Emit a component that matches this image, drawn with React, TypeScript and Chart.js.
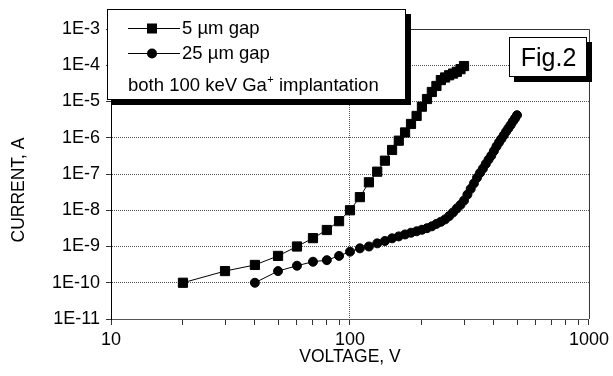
import React, { useEffect, useRef } from 'react';
import { Chart, registerables } from 'chart.js';

Chart.register(...registerables);

// ---- data ----
const gap5Voltage = [20, 30, 40, 50, 60, 70, 80, 90, 100, 110, 120, 130, 140, 150, 160, 170, 180, 190, 200, 210, 220, 230, 240, 250, 260, 270, 280, 290, 300];
const gap5Current = [1.0e-10, 2.1e-10, 3.1e-10, 5.5e-10, 1.0e-9, 1.7e-9, 2.85e-9, 5.0e-9, 1.0e-8, 2.3e-8, 5.9e-8, 1.16e-7, 2.33e-7, 4.6e-7, 8.3e-7, 1.4e-6, 2.4e-6, 4.0e-6, 7.2e-6, 1.17e-5, 1.83e-5, 2.68e-5, 3.9e-5, 4.6e-5, 5.3e-5, 5.9e-5, 6.6e-5, 7.8e-5, 9.5e-5];

const gap25Voltage = [40, 50, 60, 70, 80, 90, 100, 110, 120, 130, 140, 150, 160, 170, 180, 190, 200, 210, 220, 230, 240, 250, 260, 270, 280, 290, 300, 310, 320, 330, 340, 350, 360, 370, 380, 390, 400, 410, 420, 430, 440, 450, 460, 470, 480, 490, 500];
const gap25Current = [1.0e-10, 2.1e-10, 2.95e-10, 3.8e-10, 4.2e-10, 5.5e-10, 7.2e-10, 8.9e-10, 1.0e-9, 1.22e-9, 1.42e-9, 1.68e-9, 1.9e-9, 2.15e-9, 2.4e-9, 2.63e-9, 2.9e-9, 3.2e-9, 3.6e-9, 4.2e-9, 4.8e-9, 5.6e-9, 6.9e-9, 8.7e-9, 1.12e-8, 1.41e-8, 1.86e-8, 2.7e-8, 3.9e-8, 5.5e-8, 7.9e-8, 1.07e-7, 1.41e-7, 1.9e-7, 2.5e-7, 3.2e-7, 4.3e-7, 5.75e-7, 7.4e-7, 9.3e-7, 1.17e-6, 1.48e-6, 1.82e-6, 2.24e-6, 2.8e-6, 3.4e-6, 4.2e-6];

const seriesLabels = ['5 µm gap', '25 µm gap'];
const noteText = ['both 100 keV Ga', '+', ' implantation'];
const figLabel = 'Fig.2';

const xMajorTicks = [10, 100, 1000];
const xTickLabels = ['10', '100', '1000'];
const yTickValues = [1e-11, 1e-10, 1e-9, 1e-8, 1e-7, 1e-6, 1e-5, 1e-4, 1e-3];
const yTickLabels = ['1E-11', '1E-10', '1E-9', '1E-8', '1E-7', '1E-6', '1E-5', '1E-4', '1E-3'];
const xTitle = 'VOLTAGE, V';
const yTitle = 'CURRENT, A';

const FONT = "'Liberation Sans', Arial, Helvetica, sans-serif";

function xAllTicks(): number[] {
  const out: number[] = [];
  for (let d = 0; d < xMajorTicks.length - 1; d++) {
    for (let m = 1; m < 10; m++) out.push(xMajorTicks[d] * m);
  }
  out.push(xMajorTicks[xMajorTicks.length - 1]);
  return out;
}

const decorPlugin = {
  id: 'decor',
  beforeDatasetsDraw(chart: any) {
    const { ctx, chartArea } = chart;
    ctx.save();
    ctx.strokeStyle = '#333';
    ctx.lineWidth = 1;
    ctx.beginPath();
    ctx.moveTo(chartArea.left, chartArea.top + 0.5);
    ctx.lineTo(chartArea.right + 0.5, chartArea.top + 0.5);
    ctx.lineTo(chartArea.right + 0.5, chartArea.bottom);
    ctx.stroke();
    ctx.restore();
  },
  afterDraw(chart: any) {
    const { ctx, chartArea } = chart;
    ctx.save();
    // axis titles
    ctx.fillStyle = '#000';
    ctx.font = `17.5px ${FONT}`;
    ctx.textAlign = 'center';
    ctx.textBaseline = 'middle';
    ctx.fillText(xTitle, (chartArea.left + chartArea.right) / 2, 357);
    ctx.save();
    ctx.translate(19, 190);
    ctx.rotate(-Math.PI / 2);
    ctx.fillText(yTitle, 0, 0);
    ctx.restore();

    // legend box with shadow
    const lx = 107, ly = 9, lw = 298, lh = 90, sh = 5;
    ctx.fillStyle = '#000';
    ctx.fillRect(lx + sh, ly + sh, lw + 1, lh + 1);
    ctx.fillStyle = '#fff';
    ctx.fillRect(lx, ly, lw, lh);
    ctx.strokeStyle = '#000';
    ctx.lineWidth = 1;
    ctx.strokeRect(lx + 0.5, ly + 0.5, lw, lh);

    const rows = [28, 53];
    const styles = ['rect', 'circle'];
    rows.forEach((ry, i) => {
      ctx.strokeStyle = '#000';
      ctx.lineWidth = 1;
      ctx.beginPath();
      ctx.moveTo(128, ry + 0.5);
      ctx.lineTo(180, ry + 0.5);
      ctx.stroke();
      ctx.fillStyle = '#000';
      if (styles[i] === 'rect') {
        ctx.fillRect(147, ry - 4.5, 10, 10);
      } else {
        ctx.beginPath();
        ctx.arc(152, ry + 0.5, 5, 0, Math.PI * 2);
        ctx.fill();
      }
      ctx.font = `18.5px ${FONT}`;
      ctx.textAlign = 'left';
      ctx.textBaseline = 'alphabetic';
      ctx.fillText(seriesLabels[i], 182, ry + 6);
    });
    ctx.font = `18.5px ${FONT}`;
    ctx.textAlign = 'left';
    ctx.textBaseline = 'alphabetic';
    let tx = 128;
    ctx.fillText(noteText[0], tx, 91);
    tx += ctx.measureText(noteText[0]).width + 0.5;
    ctx.font = `11px ${FONT}`;
    ctx.fillText(noteText[1], tx, 83);
    tx += ctx.measureText(noteText[1]).width;
    ctx.font = `18.5px ${FONT}`;
    ctx.fillText(noteText[2], tx, 91);

    // Fig.2 box
    const fx = 509, fy = 37, fw = 77, fh = 39;
    ctx.fillStyle = '#000';
    ctx.fillRect(fx + sh, fy + sh, fw + 1, fh + 1);
    ctx.fillStyle = '#fff';
    ctx.fillRect(fx, fy, fw, fh);
    ctx.strokeStyle = '#000';
    ctx.strokeRect(fx + 0.5, fy + 0.5, fw, fh);
    ctx.fillStyle = '#000';
    ctx.font = `25px ${FONT}`;
    ctx.textAlign = 'center';
    ctx.textBaseline = 'alphabetic';
    ctx.fillText(figLabel, fx + fw / 2 + 1, fy + 29);
    ctx.restore();
  },
};

export default function App() {
  const canvasRef = useRef<HTMLCanvasElement | null>(null);

  useEffect(() => {
    document.body.style.margin = '0';
    const canvas = canvasRef.current;
    if (!canvas) return;
    const chart = new Chart(canvas, {
      type: 'scatter',
      data: {
        datasets: [
          {
            label: seriesLabels[0],
            data: gap5Voltage.map((v, i) => ({ x: v, y: gap5Current[i] })),
            showLine: true,
            borderColor: '#000',
            borderWidth: 1,
            backgroundColor: '#000',
            pointStyle: 'rect',
            pointRadius: 6.5,
            pointBorderWidth: 1,
            pointBorderColor: '#000',
            pointBackgroundColor: '#000',
          },
          {
            label: seriesLabels[1],
            data: gap25Voltage.map((v, i) => ({ x: v, y: gap25Current[i] })),
            showLine: true,
            borderColor: '#000',
            borderWidth: 1,
            backgroundColor: '#000',
            pointStyle: 'circle',
            pointRadius: 4.5,
            pointBorderWidth: 1,
            pointBorderColor: '#000',
            pointBackgroundColor: '#000',
          },
        ],
      },
      options: {
        responsive: false,
        animation: false,
        devicePixelRatio: 1,
        layout: { padding: { top: 29, right: 22, left: 0, bottom: 0 } },
        plugins: {
          legend: { display: false },
          tooltip: { enabled: false },
        },
        scales: {
          x: {
            type: 'logarithmic',
            min: 10,
            max: 1000,
            afterBuildTicks: (scale: any) => {
              scale.ticks = xAllTicks().map((v) => ({ value: v }));
            },
            afterFit: (scale: any) => {
              scale.height = 57;
            },
            ticks: {
              autoSkip: false,
              maxRotation: 0,
              minRotation: 0,
              padding: 4,
              color: '#000',
              font: { family: FONT, size: 18 },
              callback: (value: any) => {
                const idx = xMajorTicks.indexOf(Number(value));
                return idx >= 0 ? xTickLabels[idx] : '';
              },
            },
            grid: {
              color: (ctx: any) => (ctx.tick && ctx.tick.value === 100 ? '#555' : 'rgba(0,0,0,0)'),
              tickColor: '#333',
              tickLength: 6,
              lineWidth: 1,
            },
            border: { color: '#555', width: 1, dash: [1, 1] },
          },
          y: {
            type: 'logarithmic',
            min: 1e-11,
            max: 1e-3,
            afterBuildTicks: (scale: any) => {
              scale.ticks = yTickValues.map((v) => ({ value: v }));
            },
            afterFit: (scale: any) => {
              scale.width = 111;
            },
            ticks: {
              autoSkip: false,
              padding: 6,
              color: '#000',
              font: { family: FONT, size: 18 },
              callback: (value: any) => {
                const idx = yTickValues.findIndex((t) => Math.abs(Math.log10(t) - Math.log10(Number(value))) < 1e-6);
                return idx >= 0 ? yTickLabels[idx] : '';
              },
            },
            grid: {
              color: (ctx: any) => {
                const v = ctx.tick ? ctx.tick.value : 0;
                const lg = Math.round(Math.log10(v));
                return lg === -11 || lg === -3 ? 'rgba(0,0,0,0)' : '#555';
              },
              tickColor: '#333',
              tickLength: 5,
              lineWidth: 1,
            },
            border: { color: '#000', width: 1, dash: [1, 1] },
          },
        },
      },
      plugins: [decorPlugin],
    } as any);
    return () => chart.destroy();
  }, []);

  return (
    <div style={{ width: 613, height: 376 }}>
      <canvas ref={canvasRef} width={613} height={376} style={{ display: 'block' }} />
    </div>
  );
}
